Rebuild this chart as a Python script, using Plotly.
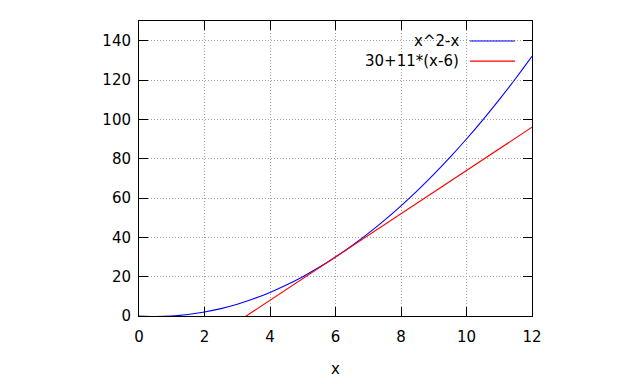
import plotly.graph_objects as go

# Data
x_curve = [0, 0.5, 1, 1.5, 2, 2.5, 3, 3.5, 4, 4.5, 5, 5.5, 6, 6.5, 7, 7.5,
           8, 8.5, 9, 9.5, 10, 10.5, 11, 11.5, 12]
y_curve = [0, -0.25, 0, 0.75, 2, 3.75, 6, 8.75, 12, 15.75, 20, 24.75, 30,
           35.75, 42, 48.75, 56, 63.75, 72, 80.75, 90, 99.75, 110, 120.75, 132]
x_line = [0, 12]
y_line = [-36, 96]
names = ["x^2-x", "30+11*(x-6)"]
colors = ["#0000ff", "#ff0000"]
x_ticks = [0, 2, 4, 6, 8, 10, 12]
y_ticks = [0, 20, 40, 60, 80, 100, 120, 140]

FONT = "DejaVu Sans"
FS = 15

fig = go.Figure()
fig.add_trace(go.Scatter(x=x_curve, y=y_curve, mode="lines", name=names[0],
                         line=dict(color=colors[0], width=1.1, shape="spline"),
                         showlegend=False))
fig.add_trace(go.Scatter(x=x_line, y=y_line, mode="lines", name=names[1],
                         line=dict(color=colors[1], width=1.1),
                         showlegend=False))

axis_common = dict(showline=True, linecolor="black", linewidth=1, mirror="ticks",
                   ticks="inside", ticklen=9, tickcolor="black",
                   showgrid=True, gridcolor="#a0a0a0", griddash="1px,2px", gridwidth=1,
                   zeroline=False, tickfont=dict(family=FONT, size=FS, color="black"))

fig.update_xaxes(range=[0, 12], tickvals=x_ticks, ticklabelstandoff=7,
                 title=dict(text="x", font=dict(family=FONT, size=FS, color="black"), standoff=18),
                 **axis_common)
fig.update_yaxes(range=[0, 150], tickvals=y_ticks, ticklabelstandoff=4, **axis_common)

# legend box (opaque, clears grid) drawn gnuplot-style
fig.add_shape(type="rect", xref="paper", yref="paper", x0=0.55, x1=0.99,
              y0=0.82, y1=0.97, fillcolor="white", line=dict(width=0), layer="between")
leg_y = [0.932, 0.864]
for name, col, ly in zip(names, colors, leg_y):
    fig.add_annotation(x=0.82, y=ly, xref="paper", yref="paper", text=name,
                       showarrow=False, xanchor="right", yanchor="middle",
                       font=dict(family=FONT, size=FS, color="black"))
    fig.add_shape(type="line", xref="paper", yref="paper", x0=0.842, x1=0.957,
                  y0=ly, y1=ly, line=dict(color=col, width=1.1))

fig.update_layout(width=640, height=384, margin=dict(l=131, r=116, t=13, b=76),
                  plot_bgcolor="white", paper_bgcolor="white",
                  font=dict(family=FONT, size=FS, color="black"))

fig.write_html("out.html")
